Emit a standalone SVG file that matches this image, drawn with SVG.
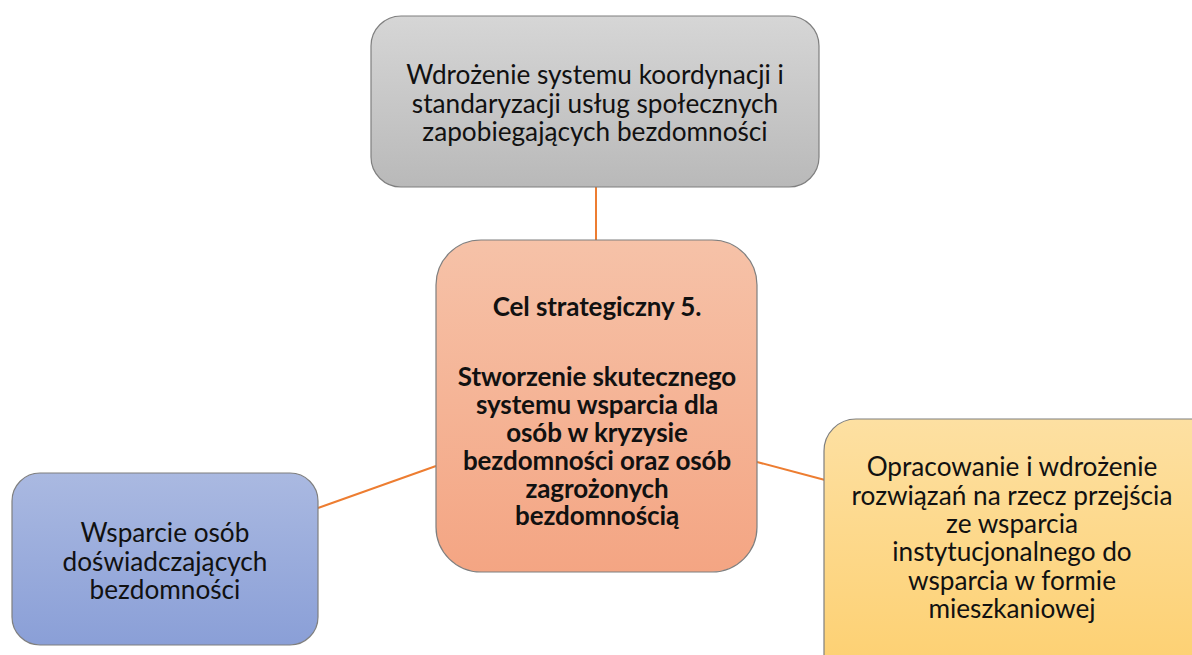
<svg xmlns="http://www.w3.org/2000/svg" width="1192" height="655" viewBox="0 0 1192 655">
<defs>
<linearGradient id="gGray" x1="0" y1="0" x2="0" y2="1"><stop offset="0" stop-color="#d6d6d6"/><stop offset="1" stop-color="#b9b9b9"/></linearGradient>
<linearGradient id="gOrange" x1="0" y1="0" x2="0" y2="1"><stop offset="0" stop-color="#f6c2a8"/><stop offset="1" stop-color="#f4a583"/></linearGradient>
<linearGradient id="gBlue" x1="0" y1="0" x2="0" y2="1"><stop offset="0" stop-color="#aab9e1"/><stop offset="1" stop-color="#8a9fd7"/></linearGradient>
<linearGradient id="gYellow" x1="0" y1="0" x2="0" y2="1"><stop offset="0" stop-color="#fde0a2"/><stop offset="1" stop-color="#fdcf6e"/></linearGradient>
</defs>
<style>
.box{stroke:#7f7f7f;stroke-width:1.2}
.t{font-family:Lato,"Liberation Sans",sans-serif;font-size:26.2px;fill:#111;text-anchor:middle}
.b{font-weight:bold;font-size:26px;letter-spacing:-0.1px}
.c{stroke:#ed7d31;stroke-width:2;fill:none}
</style>
<rect width="1192" height="655" fill="#fff"/>
<g id="connectors">
<line class="c" x1="596" y1="187" x2="596" y2="240"/>
<line class="c" x1="318" y1="508" x2="436" y2="466"/>
<line class="c" x1="757" y1="462" x2="825" y2="480"/>
</g>
<g id="node-top">
<rect class="box" x="371" y="16" width="448" height="171" rx="30" fill="url(#gGray)"/>
<text class="t" x="595" y="84">Wdrożenie systemu koordynacji i</text>
<text class="t" x="595" y="113">standaryzacji usług społecznych</text>
<text class="t" x="595" y="141">zapobiegających bezdomności</text>
</g>
<g id="node-center">
<rect class="box" x="436" y="240" width="321" height="332" rx="45" fill="url(#gOrange)"/>
<text class="t b" x="597" y="316">Cel strategiczny 5.</text>
<text class="t b" x="597" y="386">Stworzenie skutecznego</text>
<text class="t b" x="597" y="414">systemu wsparcia dla</text>
<text class="t b" x="597" y="442">osób w kryzysie</text>
<text class="t b" x="597" y="470">bezdomności oraz osób</text>
<text class="t b" x="597" y="498">zagrożonych</text>
<text class="t b" x="597" y="525">bezdomnością</text>
</g>
<g id="node-left">
<rect class="box" x="12" y="473" width="306" height="172" rx="28" fill="url(#gBlue)"/>
<text class="t" x="165" y="542">Wsparcie osób</text>
<text class="t" x="165" y="571">doświadczających</text>
<text class="t" x="165" y="599">bezdomności</text>
</g>
<g id="node-right">
<rect class="box" x="824" y="419" width="400" height="270" rx="32" fill="url(#gYellow)"/>
<text class="t" x="1012" y="476">Opracowanie i wdrożenie</text>
<text class="t" x="1012" y="505">rozwiązań na rzecz przejścia</text>
<text class="t" x="1012" y="533">ze wsparcia</text>
<text class="t" x="1012" y="561">instytucjonalnego do</text>
<text class="t" x="1012" y="590">wsparcia w formie</text>
<text class="t" x="1012" y="618">mieszkaniowej</text>
</g>
</svg>
